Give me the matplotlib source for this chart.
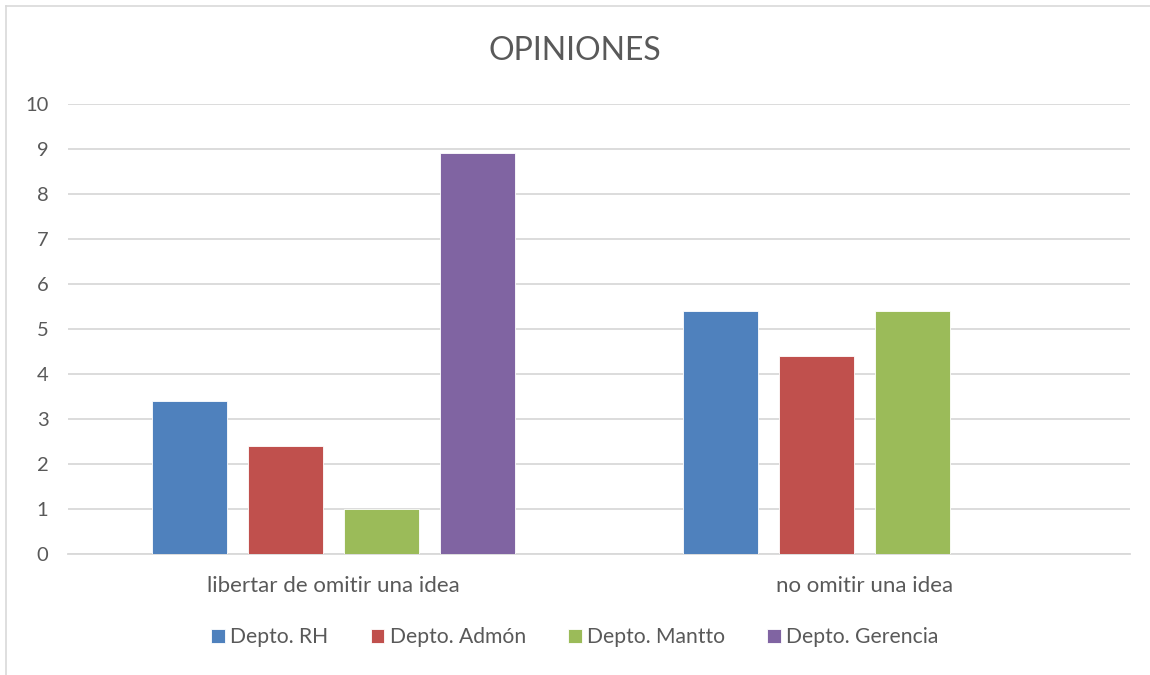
import numpy as np
import matplotlib.pyplot as plt
from matplotlib.lines import Line2D

categories = ["libertar de omitir una idea", "no omitir una idea"]
series = ["Depto. RH", "Depto. Admón", "Depto. Mantto", "Depto. Gerencia"]
rh = [3.4, 5.4]
admon = [2.4, 4.4]
mantto = [1.0, 5.4]
gerencia = [8.9, 0.0]
colors = ["#4F81BD", "#C0504D", "#9BBB59", "#8064A2"]

plt.rcParams['font.family'] = ['Lato', 'DejaVu Sans']
txt = "#595959"

fig = plt.figure(figsize=(11.5, 6.75), dpi=100)
ax = fig.add_axes([0.059, 0.179, 0.924, 0.667])

x = np.arange(len(categories))
width = 0.141
step = 0.181
for i, (name, vals) in enumerate(zip(series, [rh, admon, mantto, gerencia])):
    ax.bar(x + (i - 1.5) * step, vals, width, color=colors[i], label=name,
           edgecolor="white", linewidth=0.6, zorder=3)

ax.set_xlim(-0.5, 1.5)
ax.set_ylim(0, 10)
ax.set_yticks(range(0, 11))
ax.set_xticks(x)
ax.set_xticklabels(categories)
ax.grid(axis="y", color="#D9D9D9", linewidth=1.3, zorder=0)
for s in ["top", "right", "left"]:
    ax.spines[s].set_visible(False)
ax.spines["bottom"].set_color("#D9D9D9")
ax.spines["bottom"].set_linewidth(1.3)
ax.tick_params(axis="both", length=0, labelcolor=txt)
ax.tick_params(axis="y", pad=14, labelsize=14.5)
ax.tick_params(axis="x", pad=16, labelsize=16)

fig.text(0.5, 0.925, "OPINIONES", ha="center", va="center", fontsize=23, color=txt)

fig.legend(loc="center", bbox_to_anchor=(0.5, 0.056), ncol=4, frameon=False,
           fontsize=15.2, labelcolor=txt, handlelength=0.65, handleheight=0.65,
           handletextpad=0.25, columnspacing=2.0)

# chart border (only left and top visible in the crop)
fig.add_artist(Line2D([6 / 1150, 6 / 1150], [0, 1 - 6 / 675], transform=fig.transFigure,
                      color="#D9D9D9", linewidth=1.2))
fig.add_artist(Line2D([6 / 1150, 1], [1 - 6 / 675, 1 - 6 / 675], transform=fig.transFigure,
                      color="#D9D9D9", linewidth=1.2))

fig.savefig("out.png", dpi=100)
